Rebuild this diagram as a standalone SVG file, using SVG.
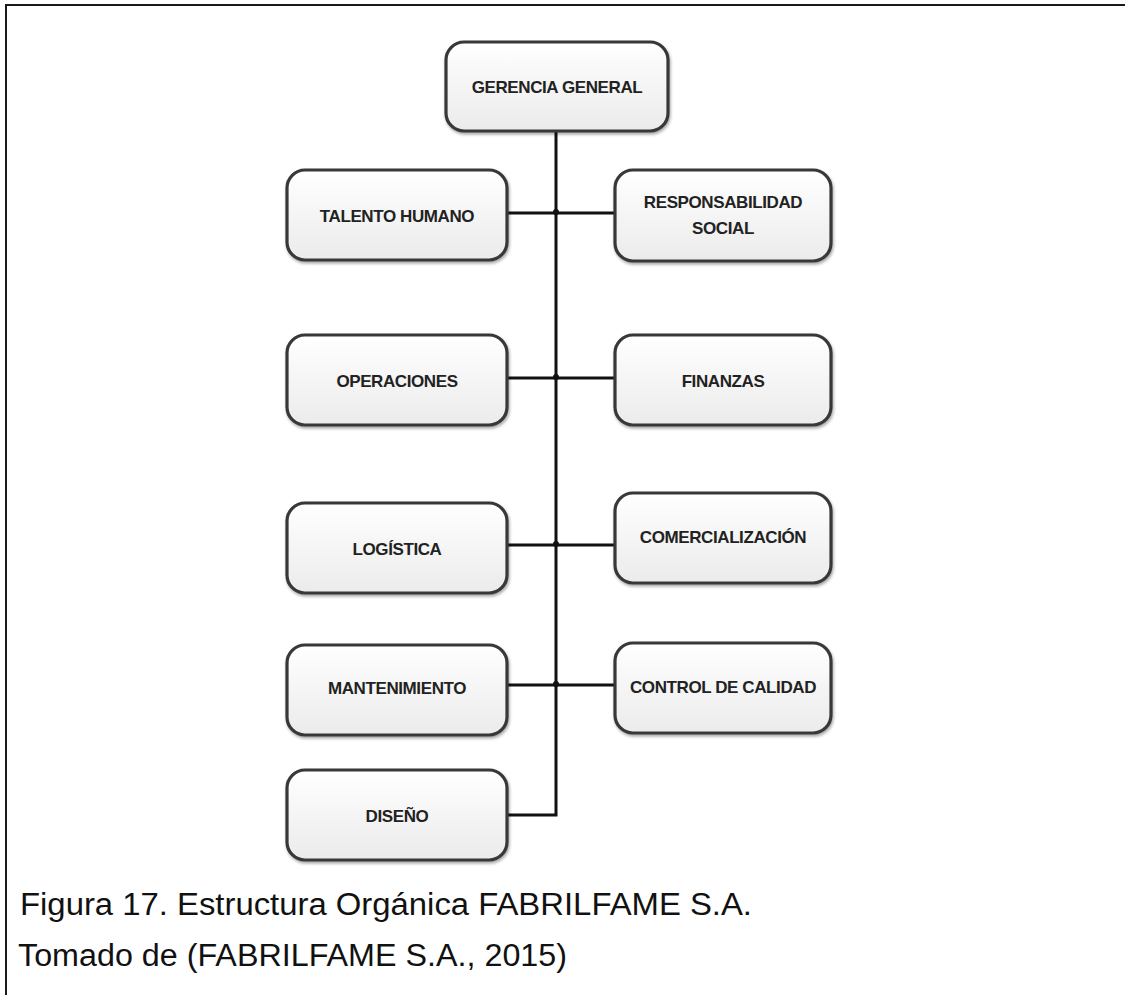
<svg xmlns="http://www.w3.org/2000/svg" width="1126" height="995" viewBox="0 0 1126 995">
  <defs>
    <linearGradient id="boxFill" x1="0" y1="0" x2="0" y2="1">
      <stop offset="0" stop-color="#ffffff"/>
      <stop offset="1" stop-color="#ebebeb"/>
    </linearGradient>
    <filter id="shadow" x="-10%" y="-10%" width="120%" height="130%">
      <feDropShadow dx="1" dy="2" stdDeviation="1.5" flood-color="#000" flood-opacity="0.35"/>
    </filter>
  </defs>
  <style>
    .box { fill: url(#boxFill); stroke: #383838; stroke-width: 3.2; filter: url(#shadow); }
    .lbl { font-family: "Liberation Sans", Arial, sans-serif; font-weight: bold; font-size: 17px; letter-spacing: -0.4px; fill: #222; text-anchor: middle; }
    .link { fill: none; stroke: #111; stroke-width: 3; }
    .dot { fill: #111; }
    .cap { font-family: "Liberation Sans", Arial, sans-serif; font-size: 31px; fill: #111; }
  </style>

  <rect width="1126" height="995" fill="#fff"/>

  <!-- page frame: top and left rules -->
  <path d="M6 995 V5 H1125" fill="none" stroke="#1a1a1a" stroke-width="2"/>

  <!-- connectors -->
  <g id="connectors">
    <path class="link" d="M556 131 V815 H507"/>
    <path class="link" d="M507 213 H615"/>
    <path class="link" d="M507 378 H615"/>
    <path class="link" d="M507 545 H615"/>
    <path class="link" d="M507 685 H615"/>
    <circle class="dot" cx="556" cy="212" r="3"/>
    <circle class="dot" cx="556" cy="377" r="3"/>
    <circle class="dot" cx="556" cy="544" r="3"/>
    <circle class="dot" cx="556" cy="684" r="3"/>
  </g>

  <g id="gerencia-general">
    <rect class="box" x="446" y="42" width="222" height="89" rx="18"/>
    <text class="lbl" x="557" y="93">GERENCIA GENERAL</text>
  </g>

  <g id="talento-humano">
    <rect class="box" x="287" y="170" width="220" height="90" rx="18"/>
    <text class="lbl" x="397" y="222">TALENTO HUMANO</text>
  </g>

  <g id="responsabilidad-social">
    <rect class="box" x="615" y="170" width="216" height="91" rx="18"/>
    <text class="lbl" x="723" y="208">RESPONSABILIDAD</text>
    <text class="lbl" x="723" y="234">SOCIAL</text>
  </g>

  <g id="operaciones">
    <rect class="box" x="287" y="335" width="220" height="90" rx="18"/>
    <text class="lbl" x="397" y="387">OPERACIONES</text>
  </g>

  <g id="finanzas">
    <rect class="box" x="615" y="335" width="216" height="90" rx="18"/>
    <text class="lbl" x="723" y="387">FINANZAS</text>
  </g>

  <g id="logistica">
    <rect class="box" x="287" y="503" width="220" height="90" rx="18"/>
    <text class="lbl" x="397" y="555">LOGÍSTICA</text>
  </g>

  <g id="comercializacion">
    <rect class="box" x="615" y="493" width="216" height="90" rx="18"/>
    <text class="lbl" x="723" y="543">COMERCIALIZACIÓN</text>
  </g>

  <g id="mantenimiento">
    <rect class="box" x="287" y="645" width="220" height="90" rx="18"/>
    <text class="lbl" x="397" y="694">MANTENIMIENTO</text>
  </g>

  <g id="control-de-calidad">
    <rect class="box" x="615" y="643" width="216" height="90" rx="18"/>
    <text class="lbl" x="723" y="693">CONTROL DE CALIDAD</text>
  </g>

  <g id="diseno">
    <rect class="box" x="287" y="770" width="220" height="90" rx="18"/>
    <text class="lbl" x="397" y="822">DISEÑO</text>
  </g>

  <!-- caption -->
  <text class="cap" x="20" y="915" textLength="732" lengthAdjust="spacingAndGlyphs">Figura 17. Estructura Orgánica FABRILFAME S.A.</text>
  <text class="cap" x="18" y="966" textLength="549" lengthAdjust="spacingAndGlyphs">Tomado de (FABRILFAME S.A., 2015)</text>
</svg>
